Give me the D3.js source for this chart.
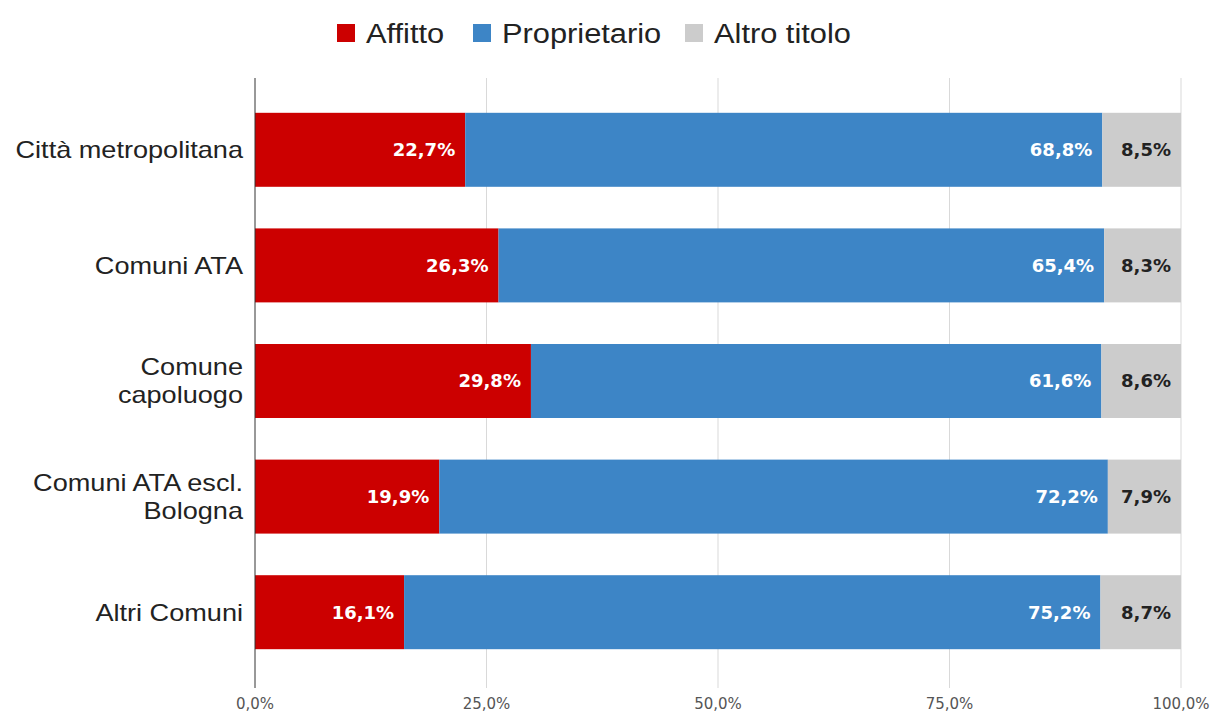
<!DOCTYPE html>
<html>
<head>
<meta charset="utf-8">
<script src="https://cdn.jsdelivr.net/npm/d3@7"></script>
<style>
  body { margin: 0; background: #fff; }
  svg { display: block; }
</style>
</head>
<body>
<div class="chart"></div>
<script>
// data
var categories = [["Città metropolitana"], ["Comuni ATA"], ["Comune", "capoluogo"], ["Comuni ATA escl.", "Bologna"], ["Altri Comuni"]];
var seriesNames = ["Affitto", "Proprietario", "Altro titolo"];
var affitto = [22.7, 26.3, 29.8, 19.9, 16.1];
var proprietario = [68.8, 65.4, 61.6, 72.2, 75.2];
var altro = [8.5, 8.3, 8.6, 7.9, 8.7];
var tickValues = [0, 25, 50, 75, 100];
var tickLabels = ["0,0%", "25,0%", "50,0%", "75,0%", "100,0%"];

var colors = ["#cc0000", "#3d85c6", "#cccccc"];
var labelColors = ["#ffffff", "#ffffff", "#222222"];

var width = 1216, height = 713;
var plotLeft = 255, plotRight = 1181, plotTop = 92, plotBottom = 670;

var svg = d3.select(".chart").append("svg")
  .attr("width", width)
  .attr("height", height);

var table = categories.map(function(c, i) {
  return { Affitto: affitto[i], Proprietario: proprietario[i], "Altro titolo": altro[i] };
});
var stacked = d3.stack().keys(seriesNames)(table);

var xScale = d3.scaleLinear().domain([0, 100]).range([plotLeft, plotRight]);
var yScale = d3.scaleBand().domain(d3.range(categories.length)).range([plotTop, plotBottom]).paddingInner(0.36).paddingOuter(0.18);

// gridlines
svg.append("g").selectAll("line")
  .data(tickValues.slice(1))
  .enter().append("line")
  .attr("x1", d => xScale(d)).attr("x2", d => xScale(d))
  .attr("y1", 78).attr("y2", 688)
  .attr("stroke", "#d9d9d9").attr("stroke-width", 1);

// bars
var groups = svg.append("g").selectAll("g")
  .data(stacked)
  .enter().append("g")
  .attr("fill", (d, i) => colors[i]);

groups.selectAll("rect")
  .data(d => d)
  .enter().append("rect")
  .attr("x", d => xScale(d[0]))
  .attr("y", (d, i) => yScale(i))
  .attr("width", d => xScale(d[1]) - xScale(d[0]))
  .attr("height", yScale.bandwidth());

// value labels
stacked.forEach(function(s, si) {
  svg.append("g").selectAll("text")
    .data(s)
    .enter().append("text")
    .attr("x", d => xScale(d[1]) - 10)
    .attr("y", (d, i) => yScale(i) + yScale.bandwidth() / 2)
    .attr("dy", "0.35em")
    .attr("text-anchor", "end")
    .attr("font-family", "'DejaVu Sans', sans-serif")
    .attr("font-weight", "bold")
    .attr("font-size", 18)
    .attr("fill", labelColors[si])
    .text(d => (d[1] - d[0]).toFixed(1).replace(".", ",") + "%");
});

// axis line
svg.append("line")
  .attr("x1", plotLeft).attr("x2", plotLeft)
  .attr("y1", 78).attr("y2", 688)
  .attr("stroke", "#333").attr("stroke-width", 1);

// category labels (slightly wide, as in the source image)
var catG = svg.append("g").selectAll("text")
  .data(categories)
  .enter().append("text")
  .attr("transform", (d, i) => "translate(243," + (yScale(i) + yScale.bandwidth() / 2 - (d.length - 1) * 14) + ") scale(1.13,1)")
  .attr("text-anchor", "end")
  .attr("font-family", "'Liberation Sans', Arial, sans-serif")
  .attr("font-size", 24)
  .attr("fill", "#222");
catG.selectAll("tspan")
  .data(d => d)
  .enter().append("tspan")
  .attr("x", 0)
  .attr("dy", (d, i) => i === 0 ? "0.35em" : "1.15em")
  .text(d => d);

// x tick labels
svg.append("g").selectAll("text")
  .data(tickValues)
  .enter().append("text")
  .attr("x", d => xScale(d))
  .attr("y", 709)
  .attr("text-anchor", "middle")
  .attr("font-family", "'DejaVu Sans', sans-serif")
  .attr("font-size", 15)
  .attr("fill", "#555")
  .text((d, i) => tickLabels[i]);

// legend
var legendX = [337, 473, 685];
var legend = svg.append("g").selectAll("g")
  .data(seriesNames)
  .enter().append("g")
  .attr("transform", (d, i) => "translate(" + legendX[i] + ",33)");
legend.append("rect")
  .attr("x", 0).attr("y", -9)
  .attr("width", 18).attr("height", 18)
  .attr("fill", (d, i) => colors[i]);
legend.append("text")
  .attr("transform", "translate(29,0) scale(1.1,1)")
  .attr("dy", "0.35em")
  .attr("font-family", "'Liberation Sans', Arial, sans-serif")
  .attr("font-size", 28)
  .attr("fill", "#222")
  .text(d => d);
</script>
</body>
</html>
